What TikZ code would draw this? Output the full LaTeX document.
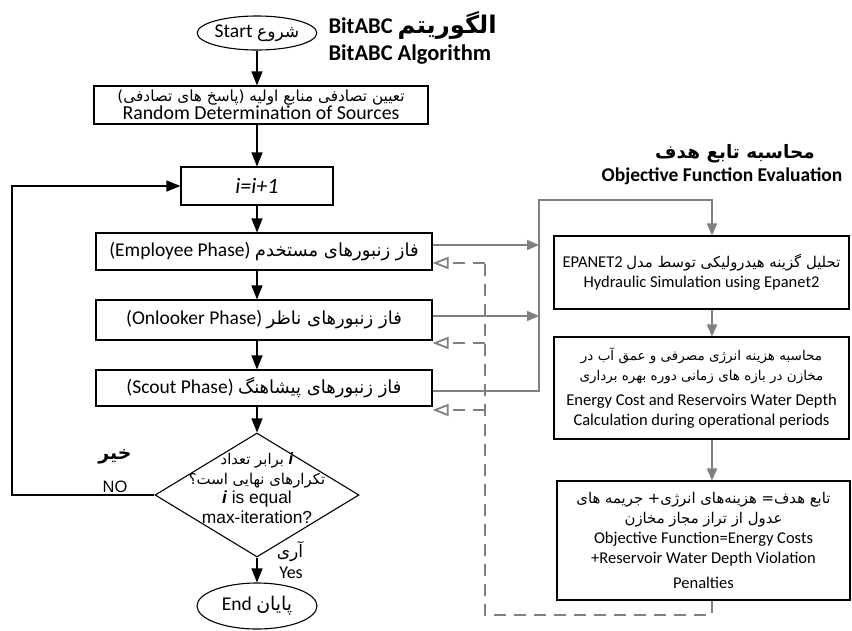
\documentclass[tikz,border=0pt]{standalone}
\usepackage{fontspec}
\setmainfont{Carlito}
\newfontfamily\fa[Script=Arabic,Scale=0.9]{DejaVu Sans}
\newfontfamily\arial{Liberation Sans}
\TeXXeTstate=1
\usetikzlibrary{arrows.meta,shapes.geometric}

\definecolor{linegray}{RGB}{128,128,128}
\newcommand{\fatxt}[2][17]{{\fontsize{#1}{#1}\selectfont\fa\beginR #2\endR}}

\tikzset{
  stepbox/.style={draw,line width=1.1pt,rectangle,align=center,inner sep=0pt},
  phasebox/.style={stepbox,minimum width=336pt,minimum height=37pt,font=\fontsize{19.5}{22}\selectfont},
  evalbox/.style={stepbox,minimum width=295pt,font=\fontsize{16.5}{20}\selectfont},
  term/.style={draw,line width=1.1pt,ellipse,inner sep=0pt,font=\fontsize{19.5}{22}\selectfont},
  flow/.style={line width=1.3pt,-{Triangle[length=14pt,width=11pt]}},
  gflow/.style={linegray,line width=1.8pt,-{Triangle[length=12pt,width=10pt]}},
  gback/.style={linegray,line width=1.8pt,dash pattern=on 12pt off 8pt},
  openhead/.style={-{Triangle[open,length=16pt,width=12pt,fill=white]}}
}

\begin{document}
\begin{tikzpicture}[x=1pt,y=-1pt,line join=miter]
\useasboundingbox (0,0) rectangle (852,630);

% titles
\node[anchor=west,font=\bfseries\fontsize{22.5}{24}\selectfont] (title1) at (325,25) {BitABC \fatxt[27]{الگوریتم}};
\node[anchor=west,font=\bfseries\fontsize{22.5}{24}\selectfont] (title2) at (325,55) {BitABC Algorithm};
\node[font=\bfseries\fontsize{20}{22}\selectfont] (rtitle1) at (735,154) {\fatxt[20.5]{محاسبه تابع هدف}};
\node[font=\bfseries\fontsize{19.5}{22}\selectfont] (rtitle2) at (722,176) {Objective Function Evaluation};

% main loop
\node[term,minimum width=114pt,minimum height=34pt] (start) at (257,33) {Start \fatxt[19]{شروع}};
\node[stepbox,minimum width=334pt,minimum height=38pt,font=\fontsize{19.8}{17}\selectfont] (rand) at (261,105)
  {\fatxt[17]{تعیین تصادفی منابع اولیه (پاسخ های تصادفی)}\\Random Determination of Sources};
\node[stepbox,minimum width=152pt,minimum height=38pt,font=\fontsize{22}{24}\selectfont\itshape] (ibox) at (257,186) {i=i+1};
\node[phasebox] (emp) at (264,251.5) {(Employee Phase) \fatxt[20]{فاز زنبورهای مستخدم}};
\node[phasebox,minimum height=40pt] (onl) at (264,320) {(Onlooker Phase) \fatxt[20]{فاز زنبورهای ناظر}};
\node[phasebox,minimum height=36pt] (sct) at (264,388) {(Scout Phase) \fatxt[20]{فاز زنبورهای پیشاهنگ}};
\node[draw,diamond,line width=1.1pt,minimum width=204pt,minimum height=124pt,inner sep=0pt] (dec) at (257,495) {};
\node[align=center,font=\arial\fontsize{17.4}{19.5}\selectfont] (dectxt) at (257,488)
  {\fatxt[16.5]{{\arial\bfseries\itshape i} برابر تعداد}\\\fatxt[16.5]{تکرارهای نهایی است؟}\\{\bfseries\itshape i} is equal\\max-iteration?};
\node[term,minimum width=120pt,minimum height=46pt] (stop) at (257,606) {End \fatxt[21]{پایان}};

\node[font=\bfseries] (nofa) at (115,457) {\fatxt[21]{خیر}};
\node[font=\arial\fontsize{16.5}{18}\selectfont] (no) at (115,487) {NO};
\node (yesfa) at (290,552) {\fatxt[19]{آری}};
\node[font=\fontsize{18}{20}\selectfont] (yes) at (291,573) {Yes};

% objective function
\node[evalbox,minimum height=73pt] (b1) at (701.5,272.5)
  {EPANET2 \fatxt[16.5]{تحلیل گزینه هیدرولیکی توسط مدل}\\Hydraulic Simulation using Epanet2};
\node[evalbox,minimum height=102pt] (b2) at (701.5,388)
  {\fatxt[15]{محاسبه هزینه انرژی مصرفی و عمق آب در}\\\fatxt[15]{مخازن در بازه های زمانی دوره بهره برداری}\\[5pt]Energy Cost and Reservoirs Water Depth\\Calculation during operational periods};
\node[evalbox,minimum width=293pt,minimum height=119pt] (b3) at (703.5,540.5)
  {\fatxt[16.5]{تابع هدف= هزینه‌های انرژی+ جریمه های}\\\fatxt[16.5]{عدول از تراز مجاز مخازن}\\Objective Function=Energy Costs\\+Reservoir Water Depth Violation\\[5pt]Penalties};

\coordinate (loopx) at (12,0);
\coordinate (topbus) at (539,200);
\coordinate (evalin) at (712,200);
\coordinate (ret) at (485,615);
\coordinate (e1) at ([yshift=6.5pt]emp.east);
\coordinate (e2) at ([yshift=-11.5pt]emp.east);
\coordinate (o1) at ([yshift=4pt]onl.east);
\coordinate (o2) at ([yshift=-23pt]onl.east);
\coordinate (s1) at ([yshift=-3pt]sct.east);
\coordinate (s2) at ([yshift=-22pt]sct.east);

% black arrows
\draw[flow] (start) -- (start |- rand.north);
\draw[flow] (start |- rand.south) -- (ibox);
\draw[flow] (ibox) -- (ibox |- emp.north);
\draw[flow] (ibox |- emp.south) -- (ibox |- onl.north);
\draw[flow] (ibox |- onl.south) -- (ibox |- sct.north);
\draw[flow] (ibox |- sct.south) -- (dec);
\draw[flow] (dec) -- (stop);
\draw[flow] (dec.west) -- (dec.west -| loopx) |- (ibox.west);

% gray arrows
\draw[gflow] (e1) -- (e1 -| topbus);
\draw[gflow] (o1) -- (o1 -| topbus);
\draw[gflow] (s1) -- (s1 -| topbus) -- (topbus) -- (evalin) -- (evalin |- b1.north);
\draw[gflow] (b1.south -| evalin) -- (b2.north -| evalin);
\draw[gflow] (b2.south -| evalin) -- (b3.north -| evalin);

% dashed return
\draw[gback] (b3.south -| evalin) |- (ret) -- (ret |- e2);
\draw[gback,openhead] (ret |- e2) -- (e2);
\draw[gback,openhead] (ret |- o2) -- (o2);
\draw[gback,openhead] (ret |- s2) -- (s2);
\end{tikzpicture}
\end{document}
